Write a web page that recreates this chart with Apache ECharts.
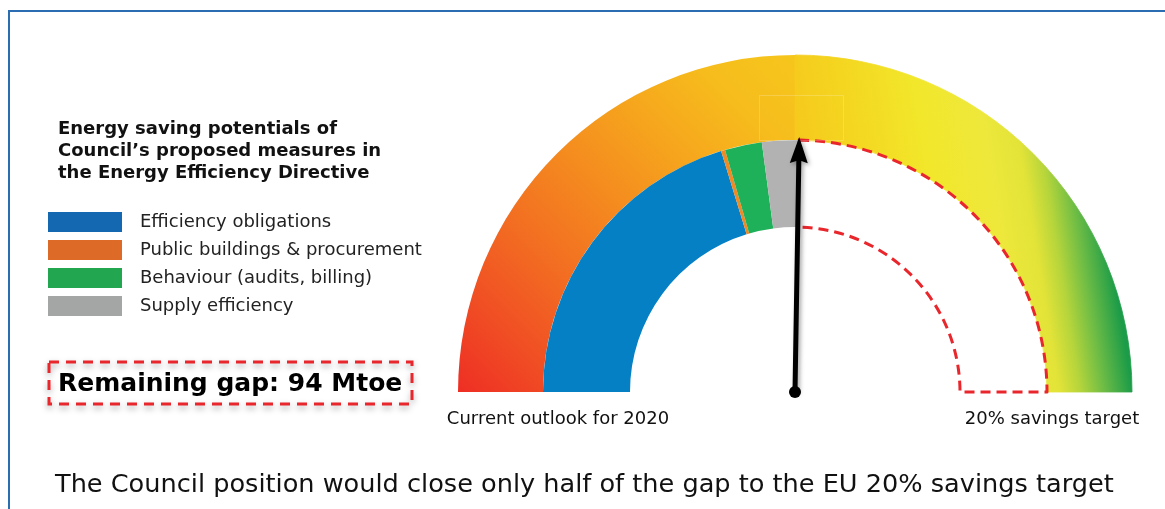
<!DOCTYPE html>
<html>
<head>
<meta charset="utf-8">
<script src="https://cdn.jsdelivr.net/npm/echarts@6/dist/echarts.min.js"></script>
<style>
  html, body { margin: 0; padding: 0; background: #fff; }
  #chart { width: 1165px; height: 509px; }
</style>
</head>
<body>
<div id="chart"></div>
<script>
// ---- data ----
const categories = ['Efficiency obligations', 'Public buildings & procurement', 'Behaviour (audits, billing)', 'Supply efficiency'];
const savingsMtoe = [77, 1, 9, 9];
const remainingGapMtoe = 94;
const titleLines = ['Energy saving potentials of', 'Council\u2019s proposed measures in', 'the Energy Efficiency Directive'];
const scaleLabels = ['Current outlook for 2020', '20% savings target'];
const gapLabel = 'Remaining gap';
const unit = 'Mtoe';
const footnote = 'The Council position would close only half of the gap to the EU 20% savings target';

// ---- styles ----
const ringColors = ['#0580c5', '#ef8a24', '#1eb159', '#b1b2b1'];
const legendColors = ['#1468b2', '#dd6a27', '#22a64f', '#a3a6a5'];
const FONT = 'DejaVu Sans';
const C = [795, 392];

const achieved = savingsMtoe.reduce((a, b) => a + b, 0);
const total = achieved + remainingGapMtoe;

const leftStops = [
  { offset: 0, color: '#ee2e24' },
  { offset: 0.15, color: '#f04c24' },
  { offset: 0.3, color: '#f26822' },
  { offset: 0.48, color: '#f4861f' },
  { offset: 0.7, color: '#f6a81d' },
  { offset: 0.85, color: '#f6bd1c' },
  { offset: 1, color: '#f6c61c' }
];
const rightStops = [
  { offset: 0, color: '#f6c51c' },
  { offset: 0.22, color: '#f4d620' },
  { offset: 0.42, color: '#f2e72a' },
  { offset: 0.6, color: '#eee83b' },
  { offset: 0.7, color: '#e2e338' },
  { offset: 0.76, color: '#b5d53b' },
  { offset: 0.83, color: '#6cbc45' },
  { offset: 0.91, color: '#1c9c48' },
  { offset: 1, color: '#1a9a46' }
];
const leftGrad = new echarts.graphic.LinearGradient(0, 1, 1, 0, leftStops);
const rightGrad = new echarts.graphic.LinearGradient(0, 0.58, 1, 0.42, rightStops);
const rightGradB = new echarts.graphic.LinearGradient(0, 0.58, 1, 0.42, rightStops);

const innerData = categories.map((n, i) => ({
  name: n, value: savingsMtoe[i],
  itemStyle: { color: ringColors[i], borderWidth: 0 }
}));
innerData.push({
  name: gapLabel, value: remainingGapMtoe,
  itemStyle: { color: 'rgba(0,0,0,0)', borderColor: '#e8262b', borderWidth: 3, borderType: [10, 6] }
});
innerData.push({ name: 'hidden', value: total, itemStyle: { color: 'rgba(0,0,0,0)', borderWidth: 0 } });

const chart = echarts.init(document.getElementById('chart'), null, { renderer: 'canvas' });
chart.setOption({
  animation: false,
  title: [{
    text: titleLines.join('\n'), left: 58, top: 118, padding: 0,
    textStyle: { fontFamily: FONT, fontSize: 18, fontWeight: 'bold', color: '#111', lineHeight: 22 }
  }],
  legend: {
    orient: 'vertical', left: 48, top: 212, padding: 0, itemWidth: 74, itemHeight: 20, itemGap: 8,
    icon: 'rect', selectedMode: false,
    data: categories.map((n, i) => ({ name: n, itemStyle: { color: legendColors[i], borderWidth: 0 } })),
    textStyle: { fontFamily: FONT, fontSize: 18, color: '#222', lineHeight: 20, padding: [0, 0, 0, 13] }
  },
  series: [
    {
      type: 'pie', z: 2, silent: true, center: C, radius: [252, 337], startAngle: 180, clockwise: true,
      label: { show: false }, labelLine: { show: false }, emphasis: { disabled: true },
      data: [
        { name: 'outerL', value: 1, itemStyle: { color: leftGrad, borderWidth: 0 } },
        { name: 'outerR', value: 1, itemStyle: { color: rightGrad, borderColor: rightGradB, borderWidth: 0.8 } },
        { name: 'outerH', value: 2, itemStyle: { color: 'rgba(0,0,0,0)', borderWidth: 0 } }
      ]
    },
    {
      type: 'pie', z: 3, silent: true, center: C, radius: [165, 252], startAngle: 180, clockwise: true,
      label: { show: false }, labelLine: { show: false }, emphasis: { disabled: true },
      data: innerData
    },
    {
      type: 'gauge', z: 10, center: C, radius: 255, startAngle: 180, endAngle: 0, min: 0, max: total,
      axisLine: { show: false }, splitLine: { show: false }, axisTick: { show: false }, axisLabel: { show: false },
      title: { show: false }, detail: { show: false },
      pointer: {
        icon: 'path://M9,0 L18,26 L11.5,24 L11.5,255 L6.5,255 L6.5,24 L0,26 Z',
        length: 255, width: 18,
        itemStyle: { color: '#000', shadowBlur: 4, shadowColor: 'rgba(0,0,0,0.35)', shadowOffsetX: 2, shadowOffsetY: 2 }
      },
      anchor: { show: true, size: 12, showAbove: true, itemStyle: { color: '#000' } },
      data: [{ value: achieved }]
    }
  ],
  graphic: [
    { type: 'polyline', silent: true, shape: { points: [[9, 600], [9, 11], [1200, 11]] },
      style: { stroke: '#2a6db0', lineWidth: 2, fill: null } },
    { type: 'rect', silent: true, z: 5, shape: { x: 759.5, y: 95.5, width: 84, height: 45 },
      style: { fill: null, stroke: 'rgba(255,255,255,0.2)', lineWidth: 1 } },
    { type: 'rect', silent: true, shape: { x: 49, y: 362, width: 363, height: 42 },
      style: { fill: null, stroke: '#e8262b', lineWidth: 3, lineDash: [10, 7],
        shadowBlur: 6, shadowColor: 'rgba(0,0,0,0.35)', shadowOffsetY: 3 } },
    { type: 'text', silent: true, x: 58, y: 384,
      style: { text: gapLabel + ': ' + remainingGapMtoe + ' ' + unit, fontFamily: FONT, fontSize: 25, fontWeight: 'bold',
        fill: '#000', verticalAlign: 'middle' } },
    { type: 'text', silent: true, x: 558, y: 419,
      style: { text: scaleLabels[0], fontFamily: FONT, fontSize: 18, fill: '#111', align: 'center', verticalAlign: 'middle' } },
    { type: 'text', silent: true, x: 1052, y: 419,
      style: { text: scaleLabels[1], fontFamily: FONT, fontSize: 18, fill: '#111', align: 'center', verticalAlign: 'middle' } },
    { type: 'text', silent: true, x: 55, y: 485,
      style: { text: footnote, fontFamily: FONT, fontSize: 25.6, fill: '#111', verticalAlign: 'middle' } }
  ]
});
</script>
</body>
</html>
